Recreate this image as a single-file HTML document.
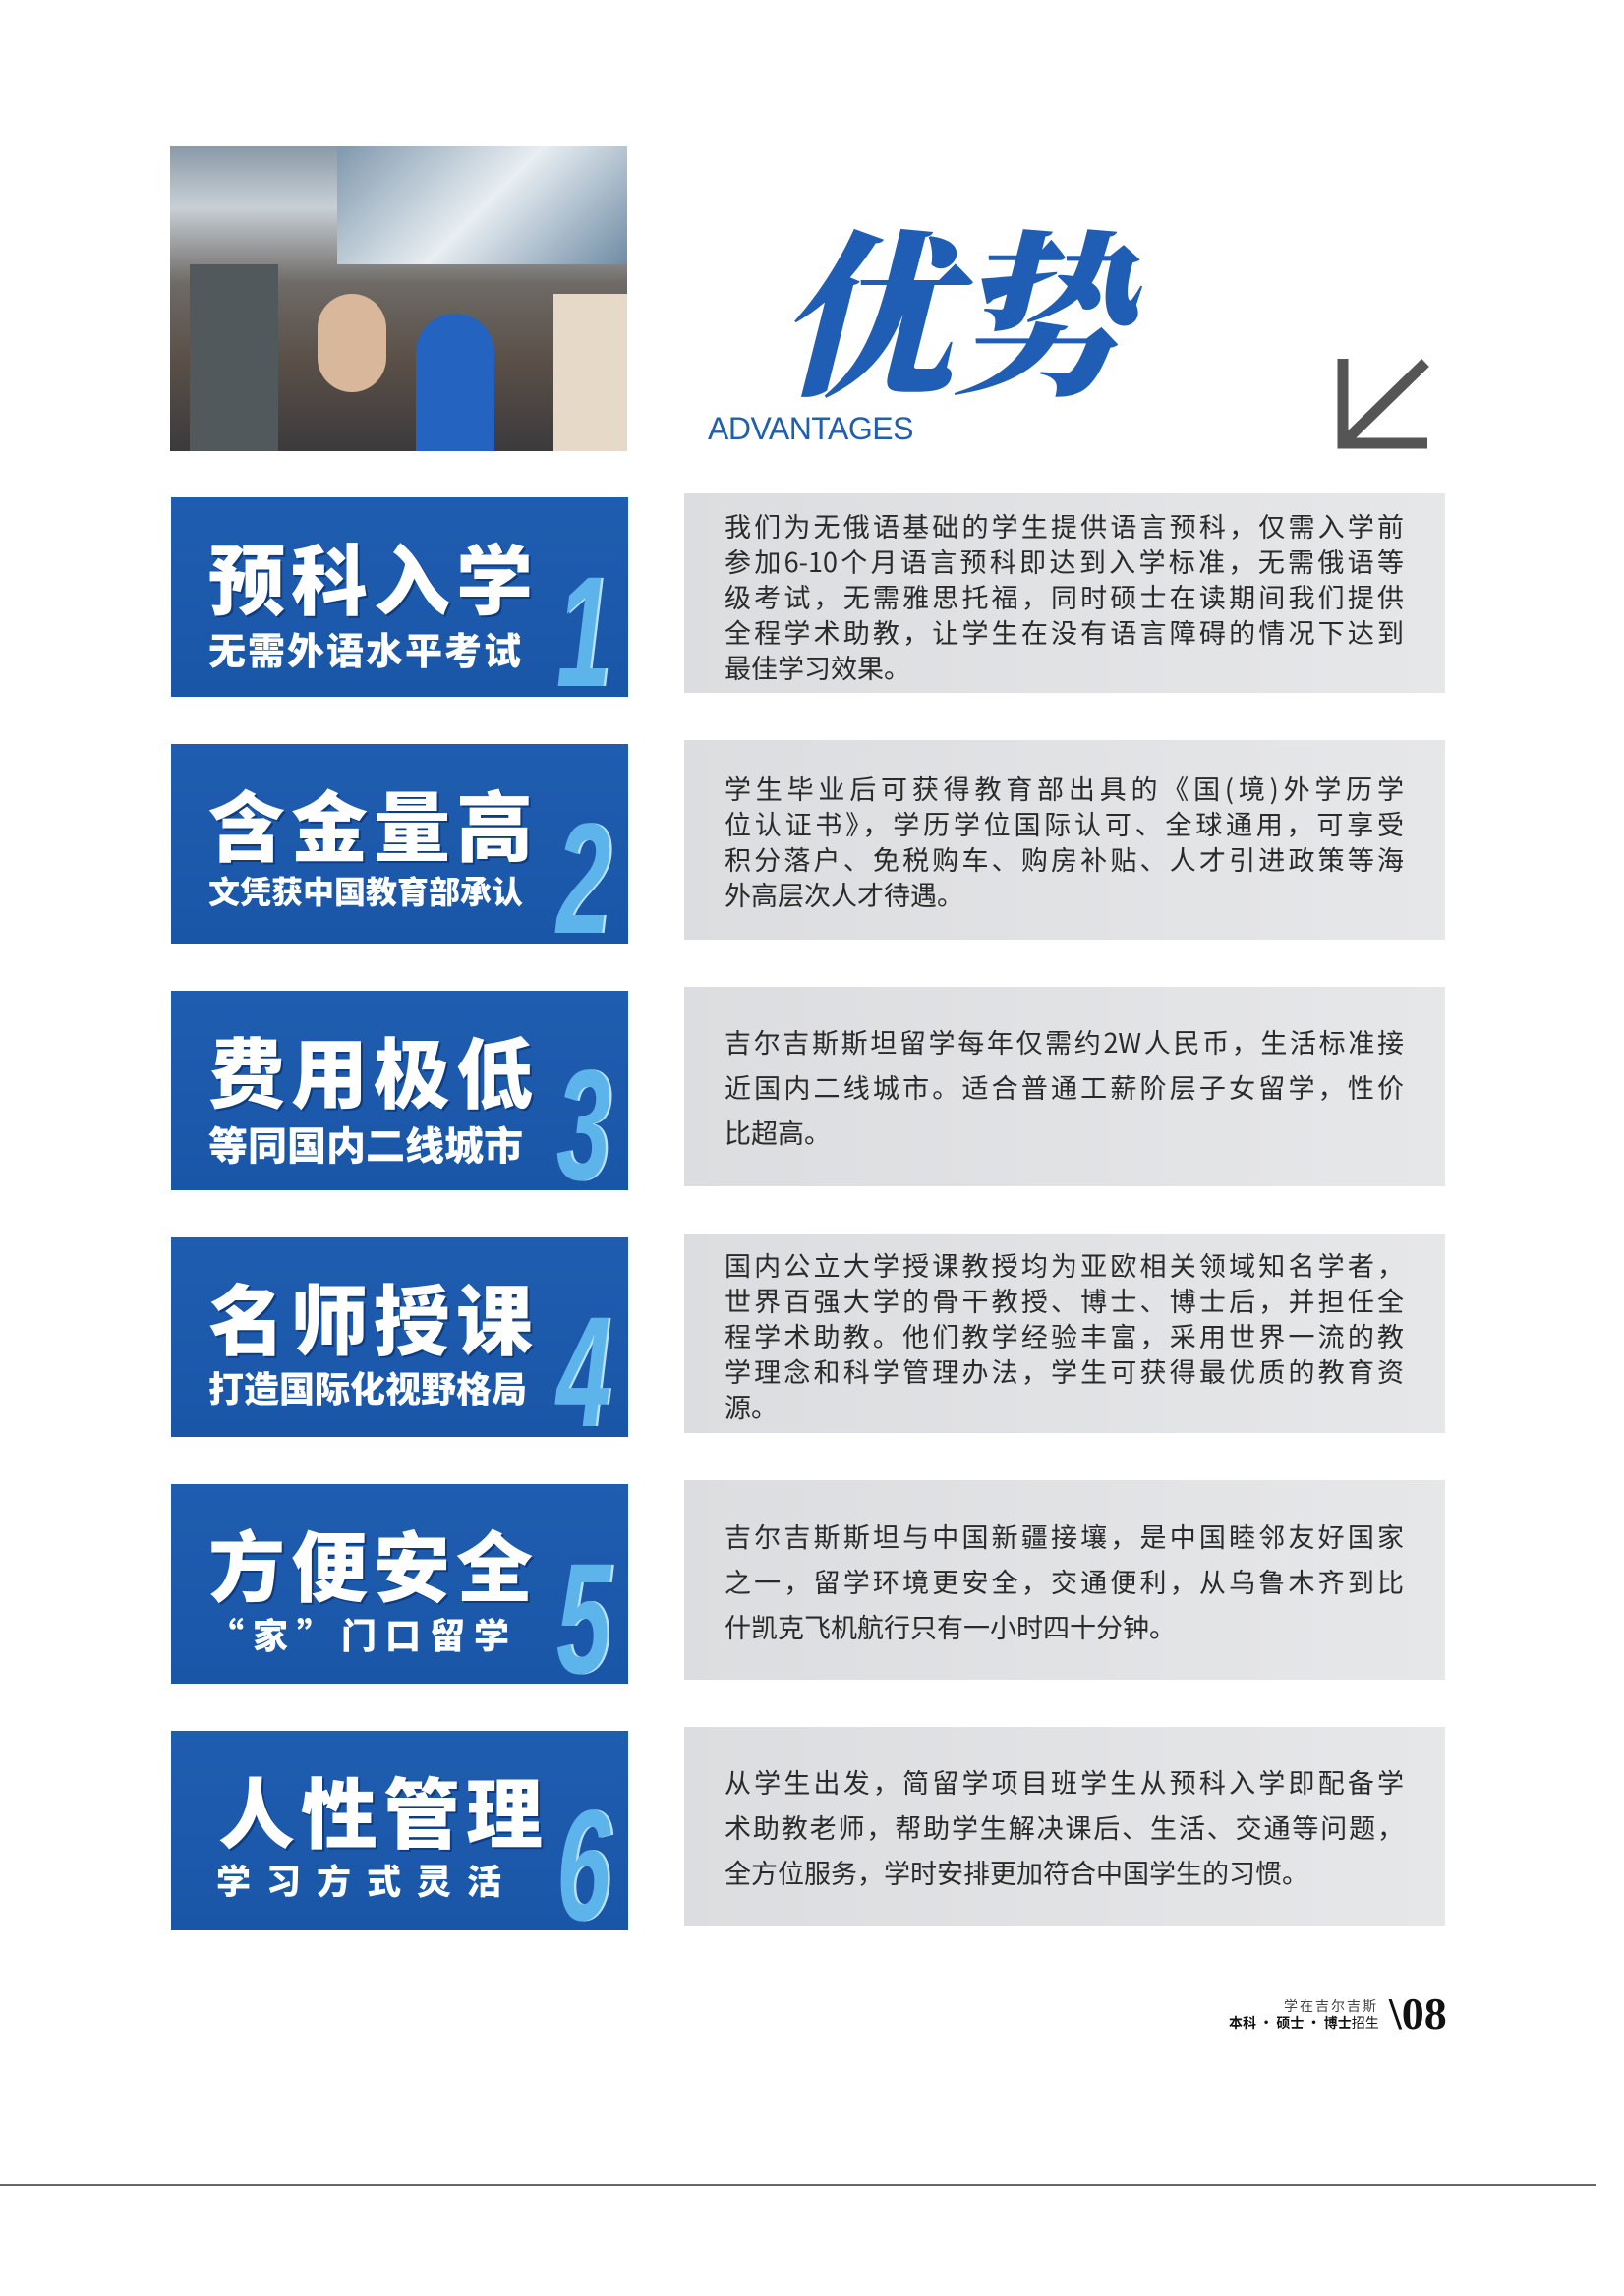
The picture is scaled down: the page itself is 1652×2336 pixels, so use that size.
<!DOCTYPE html>
<html><head><meta charset="utf-8"><style>
body{margin:0;width:1652px;height:2336px;background:#fff;position:relative;overflow:hidden;font-family:"Liberation Sans","Noto Sans CJK SC",sans-serif}
.abs{position:absolute}
.blue{position:absolute;left:174px;width:465px;height:203px;background:linear-gradient(180deg,#1f5db0,#1a56a8);}
.t1{position:absolute;left:38px;top:24px;font-size:78px;font-weight:900;color:#fff;letter-spacing:6px;white-space:nowrap;font-family:"Noto Sans CJK SC",sans-serif;text-shadow:2px 2px 0 #0e3c80}
.t2{position:absolute;left:38px;top:126px;font-size:38px;font-weight:900;color:#fff;white-space:nowrap;font-family:"Noto Sans CJK SC",sans-serif}
.num{position:absolute;left:392px;top:72px;font-size:160px;font-style:italic;font-weight:bold;color:#5cb4ea;font-family:"Liberation Sans",sans-serif;line-height:130px;transform:scaleX(0.62);transform-origin:left top;text-shadow:4px 0 0 #b8e2f8}
.gray{position:absolute;left:696px;width:774px;height:203px;background:linear-gradient(90deg,#dcdde0,#e6e7e9);color:#2a2a2a;font-size:27px;font-family:"Noto Sans CJK SC",sans-serif}
.gray .tx{position:absolute;left:41px;right:42px}
.gray .ln{text-align:justify;text-align-last:justify;white-space:nowrap;height:36px;line-height:36px}
.gray .ln.l{text-align-last:left}
.g2 .ln{height:46px;line-height:46px}
</style></head><body>
<div class="abs" style="left:173px;top:149px;width:465px;height:310px;background:linear-gradient(180deg,#8a9aa8 0%,#c8d0d6 20%,#6e6a66 45%,#5a5048 70%,#3c3a3c 100%);overflow:hidden">
<div class="abs" style="left:170px;top:0;width:300px;height:120px;background:linear-gradient(135deg,#7f98ad,#e8eef2,#6d8aa3)"></div>
<div class="abs" style="left:150px;top:150px;width:70px;height:100px;border-radius:40px;background:#d8b79a"></div>
<div class="abs" style="left:250px;top:170px;width:80px;height:140px;border-radius:40px 40px 0 0;background:#2463c0"></div>
<div class="abs" style="left:390px;top:150px;width:75px;height:160px;background:#e7d9c8"></div>
<div class="abs" style="left:20px;top:120px;width:90px;height:190px;background:#52595c"></div>
</div>
<div class="abs" style="left:790px;top:200px;font-size:180px;color:#1f5eb4;font-family:'Noto Serif CJK SC',serif;font-weight:900;letter-spacing:-4px;line-height:220px;font-style:italic">优势</div>
<div class="abs" style="left:720px;top:418px;font-size:32px;color:#1f5fb0;letter-spacing:-0.5px;background:#fff;padding-right:4px">ADVANTAGES</div>
<svg class="abs" style="left:1360px;top:365px" width="95" height="92"><path d="M6 0V86H92" fill="none" stroke="#555" stroke-width="11"/><path d="M10 82L90 4" stroke="#555" stroke-width="11"/></svg>

<div class="blue" style="top:506px"><div class="t1">预科入学</div><div class="t2" style="font-size:38px;letter-spacing:2px">无需外语水平考试</div><div class="num">1</div></div>
<div class="gray" style="top:502px"><div class="tx" style="top:15px">
<div class="ln">我们为无俄语基础的学生提供语言预科，仅需入学前</div>
<div class="ln">参加6-10个月语言预科即达到入学标准，无需俄语等</div>
<div class="ln">级考试，无需雅思托福，同时硕士在读期间我们提供</div>
<div class="ln">全程学术助教，让学生在没有语言障碍的情况下达到</div>
<div class="ln l">最佳学习效果。</div></div></div>

<div class="blue" style="top:757px"><div class="t1">含金量高</div><div class="t2" style="font-size:32px">文凭获中国教育部承认</div><div class="num">2</div></div>
<div class="gray" style="top:753px"><div class="tx" style="top:31px">
<div class="ln">学生毕业后可获得教育部出具的《国(境)外学历学</div>
<div class="ln">位认证书》，学历学位国际认可、全球通用，可享受</div>
<div class="ln">积分落户、免税购车、购房补贴、人才引进政策等海</div>
<div class="ln l">外高层次人才待遇。</div></div></div>

<div class="blue" style="top:1008px"><div class="t1">费用极低</div><div class="t2" style="font-size:40px">等同国内二线城市</div><div class="num">3</div></div>
<div class="gray g2" style="top:1004px"><div class="tx" style="top:33px">
<div class="ln">吉尔吉斯斯坦留学每年仅需约2W人民币，生活标准接</div>
<div class="ln">近国内二线城市。适合普通工薪阶层子女留学，性价</div>
<div class="ln l">比超高。</div></div></div>

<div class="blue" style="top:1259px"><div class="t1">名师授课</div><div class="t2" style="font-size:36px">打造国际化视野格局</div><div class="num">4</div></div>
<div class="gray" style="top:1255px"><div class="tx" style="top:14px">
<div class="ln">国内公立大学授课教授均为亚欧相关领域知名学者，</div>
<div class="ln">世界百强大学的骨干教授、博士、博士后，并担任全</div>
<div class="ln">程学术助教。他们教学经验丰富，采用世界一流的教</div>
<div class="ln">学理念和科学管理办法，学生可获得最优质的教育资</div>
<div class="ln l">源。</div></div></div>

<div class="blue" style="top:1510px"><div class="t1">方便安全</div><div class="t2" style="font-size:36px;letter-spacing:9px">“家”门口留学</div><div class="num">5</div></div>
<div class="gray g2" style="top:1506px"><div class="tx" style="top:34px">
<div class="ln">吉尔吉斯斯坦与中国新疆接壤，是中国睦邻友好国家</div>
<div class="ln">之一，留学环境更安全，交通便利，从乌鲁木齐到比</div>
<div class="ln l">什凯克飞机航行只有一小时四十分钟。</div></div></div>

<div class="blue" style="top:1761px"><div class="t1" style="left:48px">人性管理</div><div class="t2" style="left:46px;font-size:35px;letter-spacing:16px">学习方式灵活</div><div class="num">6</div></div>
<div class="gray g2" style="top:1757px"><div class="tx" style="top:33px">
<div class="ln">从学生出发，简留学项目班学生从预科入学即配备学</div>
<div class="ln">术助教老师，帮助学生解决课后、生活、交通等问题，</div>
<div class="ln l">全方位服务，学时安排更加符合中国学生的习惯。</div></div></div>

<div class="abs" style="left:1306px;top:2031px;font-size:14px;color:#444;letter-spacing:2px;font-family:'Noto Sans CJK SC',sans-serif">学在吉尔吉斯</div>
<div class="abs" style="left:1250px;top:2048px;font-size:14px;color:#111;font-weight:bold;font-family:'Noto Sans CJK SC',sans-serif;white-space:nowrap">本科 · 硕士 · 博士<span style="font-weight:normal">招生</span></div>
<div class="abs" style="left:1413px;top:2022px;font-size:46px;font-family:'Liberation Serif',serif;font-weight:bold;color:#111">\08</div>
<div class="abs" style="left:0;top:2222px;width:1624px;height:2px;background:#666"></div>
</body></html>
